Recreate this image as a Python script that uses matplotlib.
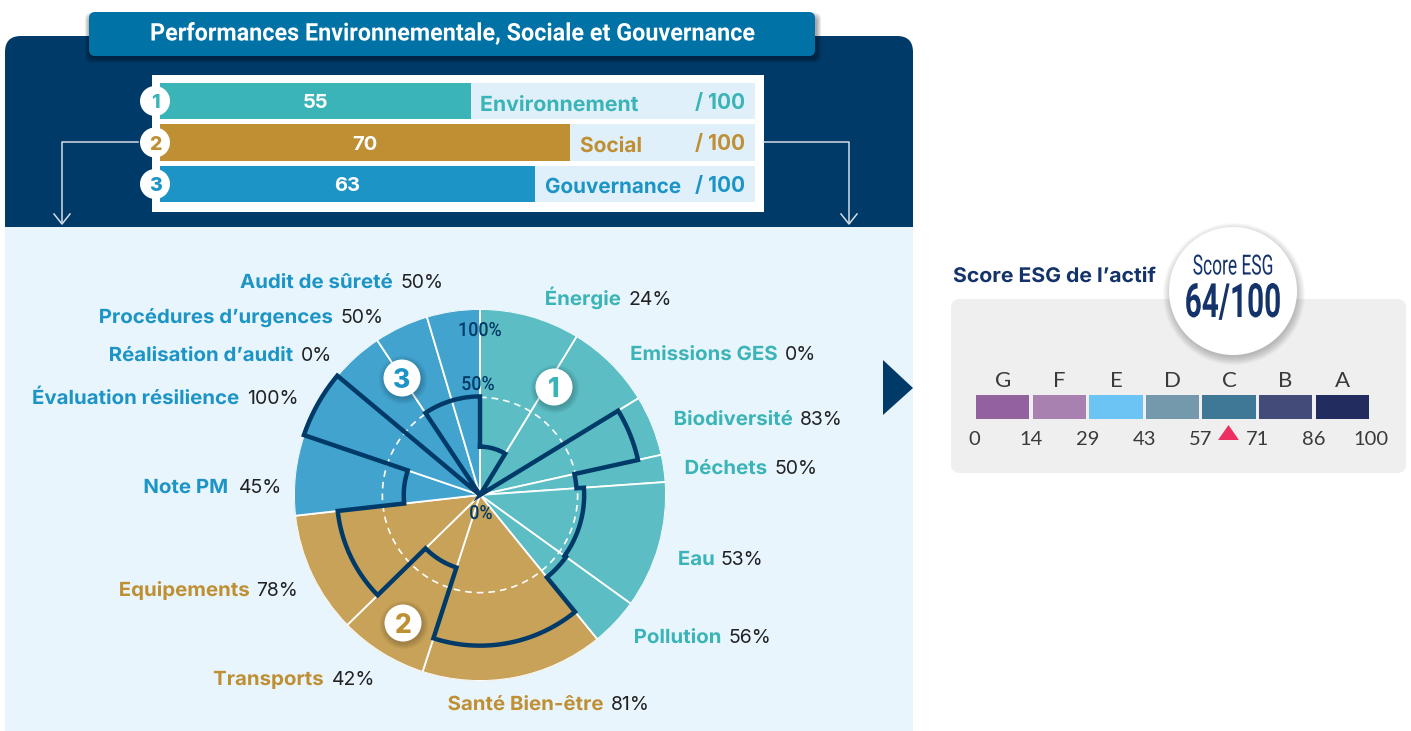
"""Tableau de bord ESG : barres par pilier, rose des notes et échelle du score."""

import matplotlib

matplotlib.use("Agg")
import matplotlib.pyplot as plt
import numpy as np
from matplotlib.patches import Circle, FancyBboxPatch, Polygon, Rectangle
from matplotlib.patheffects import AbstractPathEffect
from matplotlib.transforms import Affine2D

W, H = 1411, 731

NAVY = "#003A68"
TEAL = "#3BB4B7"
GOLD = "#BF8F33"
BLUE = "#1C94C6"
INK = "#14336B"
PANEL = "#E8F5FD"
GREY = "#EFEFEF"

pillars = ["Environnement", "Social", "Gouvernance"]
pillar_scores = [55, 70, 63]
pillar_bar_lengths = [52.3, 68.9, 63.0]  # les barres de l'original ne suivent pas tout a fait la note

sector_names = [
    "Énergie", "Emissions GES", "Biodiversité", "Déchets", "Eau", "Pollution",
    "Santé Bien-être", "Transports", "Equipements",
    "Note PM", "Évaluation résilience", "Réalisation d’audit", "Procédures d’urgences", "Audit de sûreté",
]
sector_values = [24, 0, 83, 50, 53, 56, 81, 42, 78, 45, 100, 0, 50, 50]
sector_radii = [26, 0, 87, 52, 56, 57, 81, 41, 77, 41, 100, 0, 53, 53]
sector_edges = [0, 31.4, 58.6, 77.5, 86, 125.8, 140.9, 198, 225.6, 263.6, 288.8, 309.9, 326.4, 343.4, 360]
sector_groups = [0, 0, 0, 0, 0, 0, 1, 1, 1, 2, 2, 2, 2, 2]

# x de fin du nom, x de debut de la valeur, y de chaque etiquette, dans l'ordre des secteurs
label_end_x = [621, 778, 793, 767, 715, 722, 604, 324, 250, 228, 240, 294, 333, 393]
value_x = [628, 785, 800, 774, 721, 729, 611, 332, 256, 239, 247, 301, 340, 400]
label_y = [298, 353, 418, 467, 558, 636, 703, 678, 589, 486, 397, 354, 316, 281]

grades = ["G", "F", "E", "D", "C", "B", "A"]
grade_colors = ["#94619F", "#A981B1", "#6BC4F3", "#7498AC", "#3F7896", "#434C79", "#232C5F"]
grade_ticks = [0, 14, 29, 43, 57, 71, 86, 100]
esg_score = 64

WIDE = ["Inter", "DejaVu Sans"]
NARROW = ["Roboto", "DejaVu Sans"]
LIGHT = ["Lato", "DejaVu Sans"]


class StretchX(AbstractPathEffect):
    """Etire le texte en x autour de cx (pixels), faute de police condensee."""

    def __init__(self, sx, cx):
        super().__init__()
        self.t = Affine2D().translate(-cx, 0).scale(sx, 1).translate(cx, 0)

    def draw_path(self, renderer, gc, tpath, affine, rgbFace=None):
        renderer.draw_path(gc, tpath, affine + self.t, rgbFace)


fig = plt.figure(figsize=(W / 100, H / 100), dpi=100, facecolor="white")


def px_axes(zorder):
    ax = fig.add_axes([0, 0, 1, 1], zorder=zorder)
    ax.set_xlim(0, W)
    ax.set_ylim(H, 0)
    ax.axis("off")
    return ax


def inset(x0, y0, x1, y1, zorder=2, **kw):
    return fig.add_axes([x0 / W, 1 - y1 / H, (x1 - x0) / W, (y1 - y0) / H], zorder=zorder, **kw)


def round_box(ax, x0, y0, x1, y1, r, color, **kw):
    ax.add_patch(FancyBboxPatch((x0, y0), x1 - x0, y1 - y0, boxstyle=f"round,pad=0,rounding_size={r}",
                                fc=color, ec="none", **kw))


def badge(ax, x, y, r, txt, color, size, shadow=True):
    if shadow:
        for k in range(8):
            ax.add_patch(Circle((x + 1, y + 2), r + 6 - k * 0.8, fc="black", ec="none", alpha=0.025))
    ax.add_patch(Circle((x, y), r, fc="white", ec="none"))
    ax.text(x, y, txt, color=color, fontsize=size, fontweight=800, family=WIDE, ha="center", va="center_baseline")


def stretched(ax, x, y, txt, sx, **kw):
    ax.text(x, y, txt, path_effects=[StretchX(sx, x)], **kw)


bg = px_axes(0)
fg = px_axes(5)

# panneaux de fond
round_box(bg, 5, 36, 913, 140, 16, NAVY)
bg.add_patch(Rectangle((5, 60), 908, 167, fc=NAVY, ec="none"))
bg.add_patch(Rectangle((5, 227), 908, 504, fc=PANEL, ec="none"))
for k in range(5):
    round_box(bg, 89 - k, 14 - k + 3, 815 + k + 2, 56 + k + 3, 6, "black", alpha=0.08)
round_box(bg, 89, 12, 815, 56, 6, "#0072A6")
stretched(bg, 452, 34, "Performances Environnementale, Sociale et Gouvernance", 0.962, color="white", fontsize=17.5,
          fontweight="bold", family=NARROW, ha="center", va="center")

# fleches de renvoi
for xs, ys in [((138, 62, 62), (142, 142, 223)), ((764, 849, 849), (142, 142, 223))]:
    bg.plot(xs, ys, color="#D5DDE5", lw=1.1)
    bg.plot([xs[-1] - 8, xs[-1], xs[-1] + 8], [214, 224, 214], color="#D5DDE5", lw=1.1)
bg.add_patch(Rectangle((152, 75), 612, 137, fc="white", ec="none"))

# barres par pilier
ax_b = inset(160, 83, 755, 202)
ax_b.set_xlim(0, 100)
ax_b.set_ylim(2.43, -0.43)
ax_b.axis("off")
pillar_colors = ["#3BB4B7", "#BF8F33", "#1C94C6"]
label_x = [480, 580, 545]
label_sx = [1.02, 1.0, 0.99]
for i, name in enumerate(pillars):
    ax_b.barh(i, 100, height=0.867, color="#DFF0FB")
    ax_b.barh(i, pillar_bar_lengths[i], height=0.867, color=pillar_colors[i])
    ax_b.text(pillar_bar_lengths[i] / 2, i, str(pillar_scores[i]), color="white", fontsize=14.5,
              fontweight="bold", family=WIDE, ha="center", va="center_baseline")
    stretched(fg, label_x[i], 103 + i * 41, name, label_sx[i], color=pillar_colors[i], fontsize=15, fontweight="bold",
              family=WIDE, ha="left", va="center_baseline")
    fg.text(745, 101 + i * 41.5, "/ 100", color=pillar_colors[i], fontsize=15, fontweight="bold", family=WIDE,
            ha="right", va="center_baseline")
    badge(fg, 155, 101 + i * 41.5, 15, str(i + 1), pillar_colors[i], 14, shadow=False)

# rose des notes
edges = np.deg2rad(sector_edges)
ax_p = inset(294, 309, 666, 681, zorder=2, projection="polar")
ax_p.set_theta_zero_location("N")
ax_p.set_theta_direction(-1)
ax_p.set_ylim(0, 100)
ax_p.axis("off")
ax_p.patch.set_alpha(0)
fills = ["#5CBEC4", "#C8A258", "#42A3CF"]
ax_p.bar(edges[:-1], [100] * len(sector_radii), width=np.diff(edges), align="edge",
         color=[fills[g] for g in sector_groups], edgecolor="white", linewidth=1.3)

ring = np.linspace(0, 2 * np.pi, 360)
ax_p.plot(ring, np.full_like(ring, 52.5), color="white", lw=1.2, ls=(0, (4, 3)))

outline_t, outline_r = [], []
for i, r in enumerate(sector_radii):
    arc = np.linspace(edges[i], edges[i + 1], 30)
    outline_t.extend(arc)
    outline_r.extend([r] * len(arc))
outline_t.append(outline_t[0])
outline_r.append(outline_r[0])
ax_p.plot(outline_t, outline_r, color=NAVY, lw=3.2, solid_joinstyle="miter", clip_on=False)

for x, y, s in [(480, 331, "100%"), (478, 385, "50%"), (481, 514, "0%")]:
    stretched(fg, x, y, s, 0.92, color=NAVY, fontsize=14, fontweight=500, family=NARROW, ha="center", va="center")
badge(fg, 554, 387, 18.5, "1", TEAL, 19)
badge(fg, 403, 623, 18.5, "2", GOLD, 19)
badge(fg, 402, 378, 18.5, "3", BLUE, 19)

group_colors = [TEAL, GOLD, BLUE]
for i, name in enumerate(sector_names):
    stretched(fg, label_end_x[i], label_y[i] + 7, name, 1.05, color=group_colors[sector_groups[i]], fontsize=14,
              fontweight="bold", family=WIDE, ha="right", va="baseline")
    fg.text(value_x[i], label_y[i] + 7, f"{sector_values[i]}%", color="#222222", fontsize=14,
            family=WIDE, ha="left", va="baseline")

# fleche vers le score
bg.add_patch(Polygon([(883, 360), (913, 388), (883, 415)], fc=NAVY, ec="none"))

# bloc score ESG
round_box(bg, 951, 299, 1406, 473, 9, GREY)
stretched(bg, 953, 275, "Score ESG de l’actif", 1.05, color=INK, fontsize=14.5, fontweight="bold", family=WIDE,
          ha="left", va="center_baseline")

ax_s = inset(974.5, 395, 1370.5, 419)
ax_s.set_xlim(0, 7)
ax_s.set_ylim(0, 1)
ax_s.patch.set_alpha(0)
for s in ax_s.spines.values():
    s.set_visible(False)
ax_s.set_yticks([])
ax_s.bar(np.arange(7) + 0.5, 1, width=0.94, color=grade_colors)
ax_s.set_xticks(range(8), [str(t) for t in grade_ticks])
ax_s.tick_params(axis="x", length=0, pad=8.5, labelsize=14.5, labelcolor="#3A3A3A")
for lab in ax_s.get_xticklabels():
    lab.set_family(LIGHT)
for i, g in enumerate(grades):
    ax_s.text(i + 0.5, 1.58, g, color="#3A3A3A", fontsize=16, family=LIGHT, ha="center", va="center")
ax_s.plot(esg_score / 100 * 7, -0.53, marker=[(-1, -0.72), (1, -0.72), (0, 0.72)], ms=15, color="#EE2F62",
          mec="none", clip_on=False)

for k in range(10):
    fg.add_patch(Circle((1234, 294), 71 - k * 0.9, fc="black", ec="none", alpha=0.022))
fg.add_patch(Circle((1233, 291), 64, fc="white", ec="none"))
stretched(fg, 1233, 267, "Score ESG", 0.625, color=INK, fontsize=20, family=NARROW, ha="center", va="center")
stretched(fg, 1233, 304, "64/100", 0.63, color=INK, fontsize=34, fontweight="bold", family=NARROW,
          ha="center", va="center")

fig.savefig("out.png", dpi=100)
